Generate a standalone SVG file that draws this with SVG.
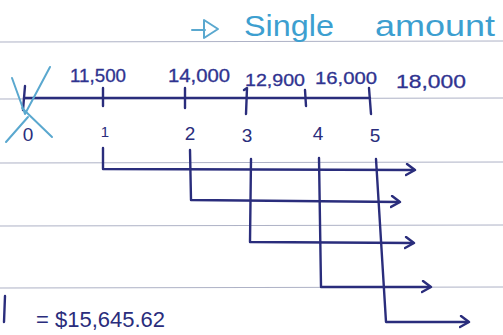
<svg xmlns="http://www.w3.org/2000/svg" width="503" height="335" viewBox="0 0 503 335">
<style>
.rule{stroke:#aeb2c6;stroke-width:1.2;fill:none}
.ink{stroke:#2a2d7c;stroke-width:2.4;fill:none;stroke-linecap:round;stroke-linejoin:round}
.teal{stroke:#5aa8cf;stroke-width:2;fill:none;stroke-linecap:round;stroke-linejoin:round}
.num{font-family:"Liberation Sans",Arial,sans-serif;fill:#2a2d7c}
.lbl{font-family:"Liberation Sans",Arial,sans-serif;fill:#2f3390;stroke:#2f3390;stroke-width:0.3}
.title{font-family:"Liberation Sans",Arial,sans-serif;fill:#3d9fd0;font-size:30px}
</style>
<defs>
<marker id="chev" viewBox="0 0 12 14" refX="9" refY="7" markerWidth="12" markerHeight="14" markerUnits="userSpaceOnUse" orient="auto">
<path d="M2,1 L10,7 L1,12" fill="none" stroke="#2a2d7c" stroke-width="2.4" stroke-linecap="round" stroke-linejoin="round"/>
</marker>
</defs>
<rect width="503" height="335" fill="#ffffff"/>
<g id="paper">
<line class="rule" x1="0" y1="42" x2="503" y2="41"/>
<line class="rule" x1="0" y1="99" x2="503" y2="98"/>
<line class="rule" x1="0" y1="163" x2="503" y2="162"/>
<line class="rule" x1="0" y1="226" x2="503" y2="225"/>
<line class="rule" x1="0" y1="288" x2="503" y2="287"/>
</g>
<g id="title">
<path class="teal" d="M192,30 L205,30"/>
<path class="teal" d="M204,20 L204,38 L218,29 Z"/>
<text class="title" x="244" y="36" textLength="90" lengthAdjust="spacingAndGlyphs">Single</text>
<text class="title" x="375" y="36" textLength="120" lengthAdjust="spacingAndGlyphs">amount</text>
</g>
<g id="timeline">
<line class="ink" x1="24" y1="98" x2="370" y2="98"/>
<path class="ink" d="M25,86 L23,110"/>
<path class="ink" d="M103,88 L103,106"/>
<path class="ink" d="M185,88 L185,108"/>
<path class="ink" d="M244,90 L247,88 L246,114"/>
<path class="ink" d="M305,90 L306,106"/>
<path class="ink" d="M369,88 L371,114"/>
<path class="teal" d="M12,78 L25,114 L50,67"/>
<path class="teal" d="M22,108 L52,137"/>
<path class="teal" d="M6,142 L28,117"/>
</g>
<g id="amounts">
<text class="lbl" x="70" y="82" font-size="18" textLength="56" lengthAdjust="spacingAndGlyphs">11,500</text>
<text class="lbl" x="168" y="82" font-size="18" textLength="62" lengthAdjust="spacingAndGlyphs">14,000</text>
<text class="lbl" x="245" y="86" font-size="17" textLength="60" lengthAdjust="spacingAndGlyphs">12,900</text>
<text class="lbl" x="315" y="84" font-size="17" textLength="62" lengthAdjust="spacingAndGlyphs">16,000</text>
<text class="lbl" x="396" y="88" font-size="19" textLength="70" lengthAdjust="spacingAndGlyphs">18,000</text>
</g>
<g id="periods">
<text class="num" x="28" y="141" font-size="19" text-anchor="middle">0</text>
<text class="num" x="105" y="137" font-size="15" text-anchor="middle">1</text>
<text class="num" x="190" y="140" font-size="19" text-anchor="middle">2</text>
<text class="num" x="247" y="142" font-size="19" text-anchor="middle">3</text>
<text class="num" x="318" y="140" font-size="19" text-anchor="middle">4</text>
<text class="num" x="375" y="142" font-size="19" text-anchor="middle">5</text>
</g>
<g id="connectors">
<path class="ink" d="M103,148 L103,169 L414,170" marker-end="url(#chev)"/>
<path class="ink" d="M190,150 L191,200 L399,202" marker-end="url(#chev)"/>
<path class="ink" d="M251,159 L250,242 L413,243" marker-end="url(#chev)"/>
<path class="ink" d="M319,158 L321,287 L430,287" marker-end="url(#chev)"/>
<path class="ink" d="M376,159 L386,322 L468,322" marker-end="url(#chev)"/>
</g>
<g id="result">
<path class="ink" d="M5,296 L4,322"/>
<text class="num" x="36" y="327" font-size="22">= $15,645.62</text>
</g>
</svg>
